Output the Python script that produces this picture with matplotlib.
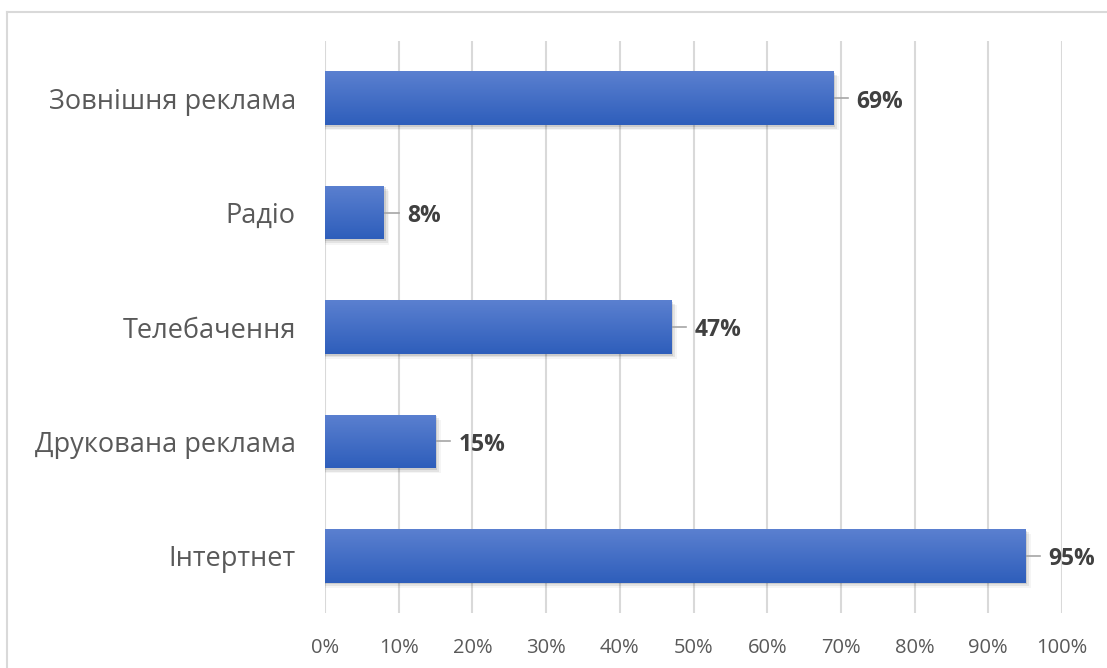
import numpy as np
import matplotlib.pyplot as plt
from matplotlib.lines import Line2D
from matplotlib.patches import Rectangle

plt.rcParams['font.family'] = ['Open Sans', 'DejaVu Sans']

categories = ['Інтертнет', 'Друкована реклама', 'Телебачення', 'Радіо', 'Зовнішня реклама']
values = [95, 15, 47, 8, 69]
xticks = list(range(0, 101, 10))

fig = plt.figure(figsize=(11.07, 6.68), dpi=100)
ax = fig.add_axes([325 / 1107, 1 - 613 / 668, (1062 - 325) / 1107, (613 - 41) / 668])

ypos = np.arange(len(categories))
bar_h = 0.47

# vertical gradient, light on top, darker at the bottom
grad = np.linspace(0, 1, 256).reshape(-1, 1)
top_col = np.array([0x5b, 0x80, 0xd0]) / 255
bot_col = np.array([0x2e, 0x5e, 0xbb]) / 255
img = top_col * (1 - grad[..., None]) + bot_col * grad[..., None]

for y, v in zip(ypos, values):
    # soft drop shadow
    for k, a in enumerate([0.10, 0.07, 0.04]):
        d = 0.015 * (k + 1)
        ax.add_patch(Rectangle((0, y - bar_h / 2 - d), v + 0.25 * (k + 1), bar_h,
                               facecolor='black', alpha=a, edgecolor='none', zorder=2))
    bar = ax.barh(y, v, height=bar_h, color='#3f6fc6', zorder=3)[0]
    im = ax.imshow(img, extent=(0, v, y - bar_h / 2, y + bar_h / 2),
                   aspect='auto', origin='upper', zorder=4)
    im.set_clip_path(bar)
    # leader line and value label
    ax.plot([v, v + 2.0], [y, y], color='#a6a6a6', lw=1.2, zorder=3)
    ax.text(v + 3.1, y - 0.03, f'{v}%', va='center', ha='left', fontsize=16.5,
            fontweight='bold', color='#404040', zorder=5)

ax.set_xlim(0, 100)
ax.set_ylim(-0.5, len(categories) - 0.5)
ax.set_xticks(xticks)
ax.set_xticklabels([f'{t}%' for t in xticks], fontsize=14.5, color='#595959')
ax.set_yticks(ypos)
ax.set_yticklabels(categories, fontsize=19.5, color='#595959')
ax.tick_params(axis='both', length=0)
ax.tick_params(axis='x', pad=18)
ax.tick_params(axis='y', pad=21)
ax.xaxis.grid(True, color='#d9d9d9', lw=1.5, zorder=0)
ax.set_axisbelow(True)
for s in ax.spines.values():
    s.set_visible(False)

# chart frame
fig.add_artist(Line2D([7 / 1107, 1], [1 - 12 / 668, 1 - 12 / 668], color='#d9d9d9', lw=1.5))
fig.add_artist(Line2D([7 / 1107, 7 / 1107], [0, 1 - 12 / 668], color='#d9d9d9', lw=1.5))

fig.savefig('out.png', dpi=100)
